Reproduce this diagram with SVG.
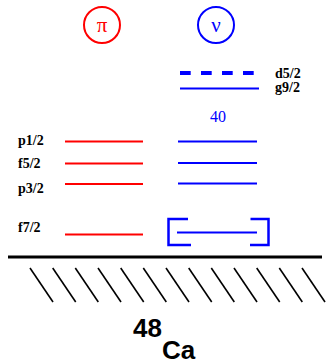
<svg xmlns="http://www.w3.org/2000/svg" width="326" height="361" viewBox="0 0 326 361">
<style>
.lbl{font-family:"Liberation Serif","DejaVu Serif",serif;font-weight:bold;font-size:14px;fill:#000}
.red{stroke:#f00;stroke-width:2;fill:none}
.blue{stroke:#00f;stroke-width:2;fill:none}
.hatch{stroke:#000;stroke-width:1.6}
</style>
<rect width="326" height="361" fill="#fff"/>
<g id="pi">
<circle cx="102" cy="25" r="18" fill="none" stroke="#f00" stroke-width="2"/>
<text x="102" y="32" text-anchor="middle" font-family="Liberation Serif,DejaVu Serif,serif" font-size="21" fill="#f00">π</text>
</g>
<g id="nu">
<circle cx="216" cy="25" r="18" fill="none" stroke="#00f" stroke-width="2"/>
<text x="216" y="32" text-anchor="middle" font-family="Liberation Serif,DejaVu Serif,serif" font-size="21" fill="#00f">ν</text>
</g>
<g id="proton-levels">
<line class="red" x1="65" y1="141.5" x2="143" y2="141.5"/>
<line class="red" x1="65" y1="163.5" x2="143" y2="163.5"/>
<line class="red" x1="65" y1="184" x2="143" y2="184"/>
<line class="red" x1="65" y1="234.5" x2="143" y2="234.5"/>
<text class="lbl" x="18" y="145">p1/2</text>
<text class="lbl" x="18" y="168">f5/2</text>
<text class="lbl" x="18" y="193">p3/2</text>
<text class="lbl" x="18" y="232">f7/2</text>
</g>
<g id="neutron-levels">
<line x1="180" y1="73" x2="257" y2="73" stroke="#00f" stroke-width="4" stroke-dasharray="10.7 10.3"/>
<line class="blue" x1="180" y1="88.5" x2="259" y2="88.5"/>
<text class="lbl" x="275" y="78">d5/2</text>
<text class="lbl" x="275" y="92">g9/2</text>
<text x="218" y="122" text-anchor="middle" font-family="Liberation Serif,DejaVu Serif,serif" font-size="16" fill="#00f">40</text>
<line class="blue" x1="178" y1="141.5" x2="257" y2="141.5"/>
<line class="blue" x1="178" y1="163" x2="257" y2="163"/>
<line class="blue" x1="178" y1="183.5" x2="257" y2="183.5"/>
<line class="blue" x1="177" y1="232.5" x2="257" y2="232.5"/>
<path d="M188,219 H168.5 V245 H191" stroke="#00f" stroke-width="2.5" fill="none"/>
<path d="M250.5,219 H268.5 V245 H250" stroke="#00f" stroke-width="2.5" fill="none"/>
</g>
<g id="core">
<line x1="8" y1="257" x2="322" y2="257" stroke="#000" stroke-width="3"/>
<g class="hatch">
<line x1="30" y1="268" x2="53" y2="302"/>
<line x1="52.7" y1="268" x2="75.7" y2="302"/>
<line x1="75.3" y1="268" x2="98.3" y2="302"/>
<line x1="98" y1="268" x2="121" y2="302"/>
<line x1="120.7" y1="268" x2="143.7" y2="302"/>
<line x1="143.3" y1="268" x2="166.3" y2="302"/>
<line x1="166" y1="268" x2="189" y2="302"/>
<line x1="188.7" y1="268" x2="211.7" y2="302"/>
<line x1="211.3" y1="268" x2="234.3" y2="302"/>
<line x1="234" y1="268" x2="257" y2="302"/>
<line x1="256.7" y1="268" x2="279.7" y2="302"/>
<line x1="279.3" y1="268" x2="302.3" y2="302"/>
<line x1="302" y1="268" x2="325" y2="302"/>
</g>
<text x="133" y="337" font-family="Liberation Sans,Arial,sans-serif" font-weight="bold" font-size="26" fill="#000">48</text>
<text x="162" y="359" font-family="Liberation Sans,Arial,sans-serif" font-weight="bold" font-size="26" fill="#000">Ca</text>
</g>
</svg>
